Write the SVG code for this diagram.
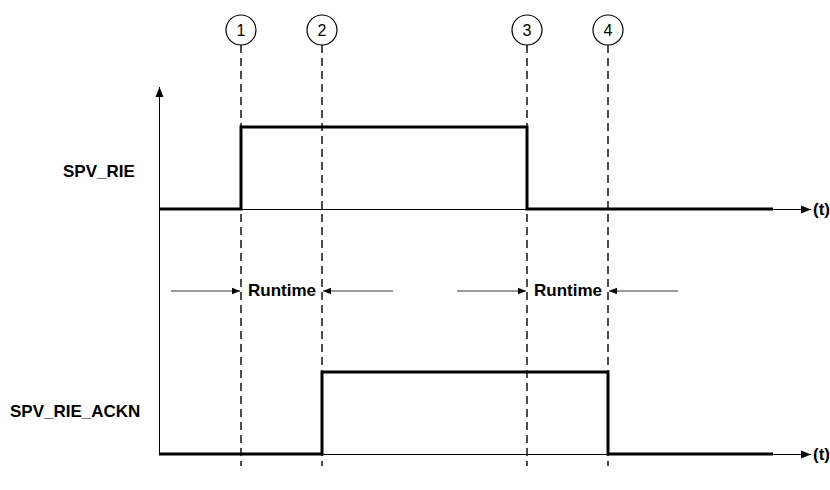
<svg xmlns="http://www.w3.org/2000/svg" width="830" height="490" viewBox="0 0 830 490">
<style>
.axis{stroke:#000;stroke-width:1;fill:none}
.sig{stroke:#000;stroke-width:3;fill:none;stroke-linejoin:miter}
.dash{stroke:#000;stroke-width:1.4;stroke-dasharray:8,5;fill:none}
.thin{stroke:#000;stroke-width:0.8;fill:none}
.lbl{font-family:"Liberation Sans",Arial,sans-serif;font-weight:bold;font-size:17px;fill:#000}
.num{font-family:"Liberation Sans",Arial,sans-serif;font-size:16px;fill:#000;text-anchor:middle}
.circ{fill:#fff;stroke:#000;stroke-width:1.2}
</style>
<defs>
<marker id="ah" viewBox="0 0 10 10" refX="10" refY="5" markerWidth="10" markerHeight="10" markerUnits="userSpaceOnUse" orient="auto">
<path d="M0,1 L10,5 L0,9 Z" fill="#000"/>
</marker>
<marker id="ahs" viewBox="0 0 10 10" refX="10" refY="5" markerWidth="8" markerHeight="8" markerUnits="userSpaceOnUse" orient="auto">
<path d="M0,1 L10,5 L0,9 Z" fill="#000"/>
</marker>
</defs>
<rect width="830" height="490" fill="#fff"/>
<g id="connectors">
<line class="axis" x1="159.5" y1="454" x2="159.5" y2="87" marker-end="url(#ah)"/>
<line class="axis" x1="159" y1="209.5" x2="811" y2="209.5" marker-end="url(#ah)"/>
<line class="axis" x1="159" y1="454.5" x2="811" y2="454.5" marker-end="url(#ah)"/>
<line class="dash" x1="241" y1="45" x2="241" y2="466"/>
<line class="dash" x1="322" y1="45" x2="322" y2="466"/>
<line class="dash" x1="527" y1="45" x2="527" y2="466"/>
<line class="dash" x1="608" y1="45" x2="608" y2="466"/>
<polyline class="sig" points="159,209 241,209 241,127 527,127 527,209 773,209"/>
<polyline class="sig" points="159,454 322,454 322,372 608,372 608,454 773,454"/>
<line class="thin" x1="171" y1="291" x2="240" y2="291" marker-end="url(#ahs)"/>
<line class="thin" x1="393" y1="291" x2="323" y2="291" marker-end="url(#ahs)"/>
<line class="thin" x1="457" y1="291" x2="526" y2="291" marker-end="url(#ahs)"/>
<line class="thin" x1="678" y1="291" x2="609" y2="291" marker-end="url(#ahs)"/>
</g>
<g id="m1"><circle class="circ" cx="241" cy="30" r="15"/><text class="num" x="241" y="36">1</text></g>
<g id="m2"><circle class="circ" cx="322" cy="30" r="15"/><text class="num" x="322" y="36">2</text></g>
<g id="m3"><circle class="circ" cx="527" cy="30" r="15"/><text class="num" x="527" y="36">3</text></g>
<g id="m4"><circle class="circ" cx="608" cy="30" r="15"/><text class="num" x="608" y="36">4</text></g>
<g id="labels">
<text class="lbl" x="63" y="177">SPV_RIE</text>
<text class="lbl" x="10" y="417">SPV_RIE_ACKN</text>
<text class="lbl" x="813" y="215">(t)</text>
<text class="lbl" x="813" y="460">(t)</text>
<text class="lbl" x="248" y="296">Runtime</text>
<text class="lbl" x="534" y="296">Runtime</text>
</g>
</svg>
